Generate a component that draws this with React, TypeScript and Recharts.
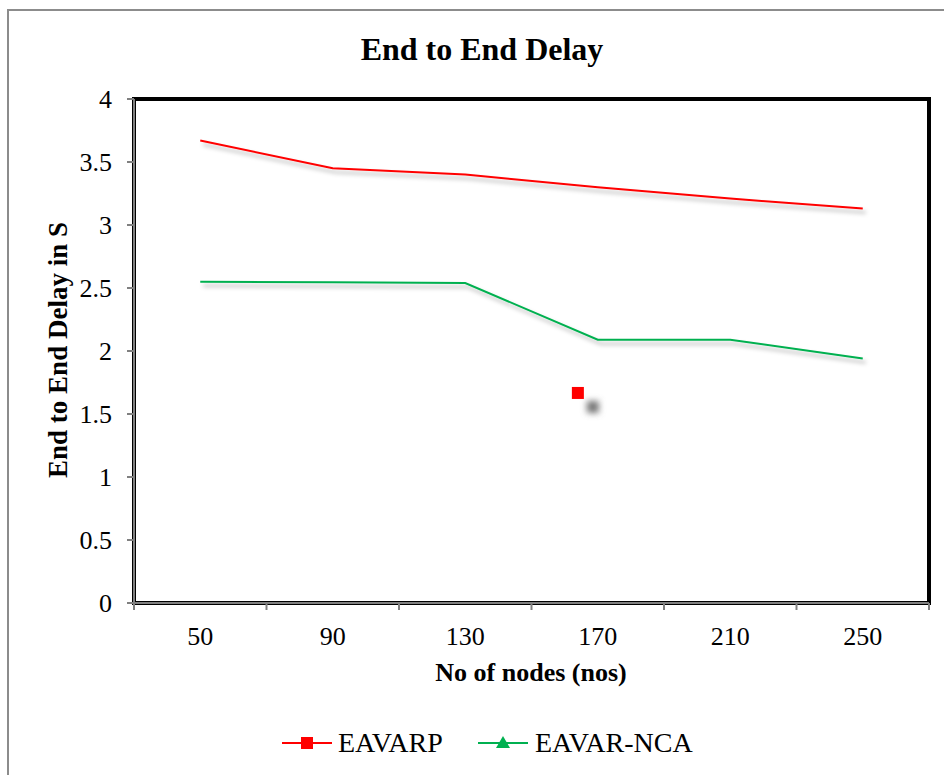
import React from 'react';
import { ComposedChart, Line, Scatter, XAxis, YAxis, ReferenceArea } from 'recharts';

const nodes = [50, 90, 130, 170, 210, 250];
const eavarp = [3.67, 3.45, 3.4, 3.3, 3.21, 3.13];
const eavarNca = [2.55, 2.545, 2.54, 2.09, 2.09, 1.94];
const strayX = [164];
const strayY = [1.667];
const yTicks = [0, 0.5, 1, 1.5, 2, 2.5, 3, 3.5, 4];
const xTicks = [30, 50, 70, 90, 110, 130, 150, 170, 190, 210, 230, 250, 270];

const data = nodes.map((n, i) => ({ x: n, eavarp: eavarp[i], nca: eavarNca[i] }));
const strayData = strayX.map((x, i) => ({ x, y: strayY[i] }));

const FONT = '"Liberation Serif", "Times New Roman", serif';

const XTick = (props: any) => {
  const { x, y, payload } = props;
  const v = payload.value;
  if (nodes.includes(v)) {
    return (
      <text x={x} y={y + 42} textAnchor="middle" fontSize={26} fontFamily={FONT} fill="#000">
        {v}
      </text>
    );
  }
  return <line x1={x} x2={x} y1={y} y2={y + 7} stroke="#808080" strokeWidth={2} />;
};

const StrayShape = (props: any) => {
  const { cx, cy } = props;
  return (
    <g>
      <rect x={cx + 9} y={cy + 8} width={12} height={12} fill="#777" filter="url(#blurBlob)" />
      <rect x={cx - 6} y={cy - 6} width={12} height={12} fill="#ff0000" />
    </g>
  );
};

export default function App() {
  return (
    <div style={{ position: 'absolute', left: 0, top: 0, width: 944, height: 775, background: '#fff', fontFamily: FONT }}>
      <svg width={0} height={0} style={{ position: 'absolute' }}>
        <defs>
          <filter id="lineShadow" x="-10%" y="-50%" width="120%" height="200%">
            <feDropShadow dx={3} dy={4} stdDeviation={2} floodColor="#000" floodOpacity={0.3} />
          </filter>
          <filter id="blurBlob" x="-100%" y="-100%" width="300%" height="300%">
            <feGaussianBlur stdDeviation={3} />
          </filter>
        </defs>
      </svg>
      <div style={{ position: 'absolute', left: 7, top: 9, right: -5, bottom: -5, borderLeft: '2px solid #8c8c8c', borderTop: '2px solid #8c8c8c' }} />
      <div style={{ position: 'absolute', left: 0, width: 964, top: 30, textAlign: 'center', fontWeight: 'bold', fontSize: 32, lineHeight: '38px' }}>
        End to End Delay
      </div>
      <div style={{ position: 'absolute', left: 58, top: 350, width: 0, height: 0 }}>
        <div style={{ position: 'absolute', left: -200, top: -16, width: 400, textAlign: 'center', transform: 'rotate(-90deg)', fontWeight: 'bold', fontSize: 27, lineHeight: '32px' }}>
          End to End Delay in S
        </div>
      </div>
      <div style={{ position: 'absolute', left: 331, width: 400, top: 657, textAlign: 'center', fontWeight: 'bold', fontSize: 26, lineHeight: '32px' }}>
        No of nodes (nos)
      </div>
      <div style={{ position: 'absolute', left: 0, top: 0 }}>
        <ComposedChart width={944} height={775} data={data} margin={{ top: 99, right: 15, bottom: 0, left: 0 }}>
          <ReferenceArea x1={30} x2={270} y1={0} y2={4} fill="none" stroke="#000" strokeWidth={4} ifOverflow="visible" />
          <XAxis
            dataKey="x"
            type="number"
            domain={[30, 270]}
            ticks={xTicks}
            interval={0}
            tick={<XTick />}
            tickLine={false}
            tickSize={0}
            tickMargin={0}
            height={172}
            axisLine={{ stroke: '#808080', strokeWidth: 2 }}
          />
          <YAxis
            type="number"
            domain={[0, 4]}
            ticks={yTicks}
            interval={0}
            width={134}
            tickSize={7}
            tickMargin={15}
            tickLine={{ stroke: '#808080', strokeWidth: 2 }}
            axisLine={{ stroke: '#808080', strokeWidth: 2 }}
            tick={{ fontSize: 26, fontFamily: FONT, fill: '#000' }}
          />
          <Line dataKey="eavarp" stroke="#ff0000" strokeWidth={2} dot={false} isAnimationActive={false} style={{ filter: 'url(#lineShadow)' }} />
          <Line dataKey="nca" stroke="#00b050" strokeWidth={2} dot={false} isAnimationActive={false} style={{ filter: 'url(#lineShadow)' }} />
          <Scatter data={strayData} dataKey="y" shape={<StrayShape />} isAnimationActive={false} />
        </ComposedChart>
      </div>
      <div style={{ position: 'absolute', left: 0, top: 726, width: 944, height: 34 }}>
        <svg width={944} height={34} style={{ position: 'absolute', left: 0, top: 0 }}>
          <line x1={282} x2={332} y1={17} y2={17} stroke="#ff0000" strokeWidth={2} />
          <rect x={301} y={11} width={12} height={12} fill="#ff0000" />
          <line x1={478} x2={528} y1={17} y2={17} stroke="#00b050" strokeWidth={2} />
          <polygon points="503,10 510,22 496,22" fill="#00b050" />
        </svg>
        <div style={{ position: 'absolute', left: 338, top: 0, fontSize: 28, lineHeight: '34px' }}>EAVARP</div>
        <div style={{ position: 'absolute', left: 535, top: 0, fontSize: 28, lineHeight: '34px' }}>EAVAR-NCA</div>
      </div>
    </div>
  );
}
